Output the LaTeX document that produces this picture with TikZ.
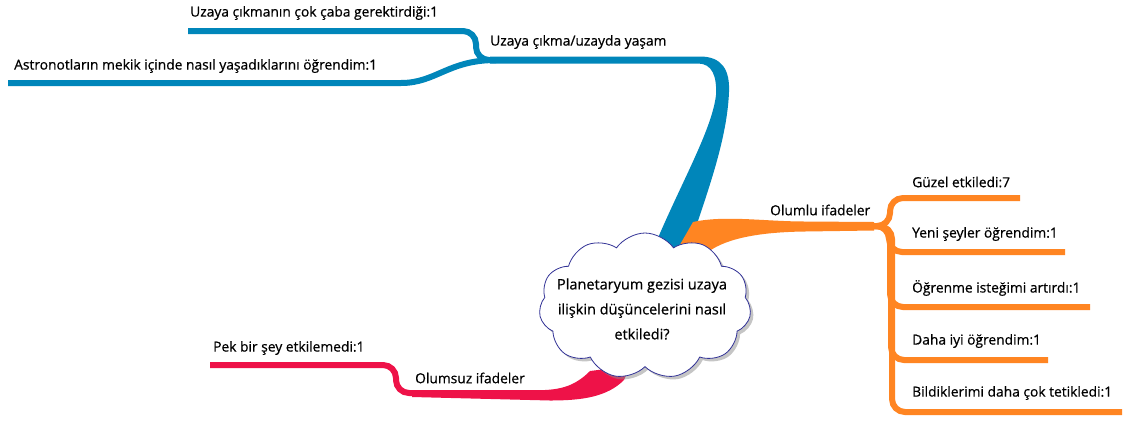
\documentclass[tikz,border=0pt]{standalone}
\usepackage{fontspec}
\setmainfont{Open Sans}
\newfontfamily\mapfont{Open Sans}[FakeBold=0.6]
\usetikzlibrary{shapes.symbols,shadows}
\definecolor{mapblue}{RGB}{0,134,186}
\definecolor{maporange}{RGB}{255,133,34}
\definecolor{mapred}{RGB}{238,18,72}
\definecolor{cloudline}{RGB}{50,50,150}
\tikzset{
  maptext/.style={anchor=west, inner sep=0pt, text=black, font=\mapfont\fontsize{13.8}{16}\selectfont},
  leaf/.style={line width=6pt, rounded corners=13pt},
}
\begin{document}
\begin{tikzpicture}[x=1pt,y=-1pt]
\useasboundingbox (0,0) rectangle (1129,421);
\fill[white] (0,0) rectangle (1129,421);

% ---- blue branch: space travel / life in space
\coordinate (bJ) at (496,60);
\coordinate (bU) at (188,31);
\coordinate (bL) at (8,83);
\coordinate (bLk) at (388,83);
\draw[leaf, mapblue] (bJ) -- ++(-20,0) |- (bU);
\draw[leaf, mapblue] (bL) -- (bLk) .. controls +(48,0) and +(-48,0) .. (bJ);
\fill[mapblue] (490,56.5) -- (700,56.5) .. controls (722,56.5) and (730,70) .. (729,92)
  .. controls (727,140) and (708,190) .. (690,245) -- (684,268) -- (646,268) -- (655,245)
  .. controls (680,185) and (712,130) .. (716,95) .. controls (717,76) and (712,63.5) .. (698,63.5)
  -- (490,63.5) -- cycle;

% ---- orange branch: positive statements
\coordinate (oJ) at (870,226);
\coordinate (oG) at (1020,198);
\coordinate (oY) at (1065,252);
\coordinate (oO) at (1090,307);
\coordinate (oD) at (1048,360);
\coordinate (oB) at (1122,412);
\fill[maporange] (670,262) -- (693,222) .. controls (725,215) and (765,221.5) .. (805,221.5)
  -- (874,222) -- (874,230.5) -- (805,231.5) .. controls (765,232) and (728,237) .. (708,252)
  -- (696,268) -- cycle;
\draw[leaf, maporange] (oJ) -- ++(20,0) |- (oG);
\draw[leaf, maporange] (oJ) -- ++(19,0) |- (oY);
\draw[leaf, maporange] (oJ) -- ++(20,0) |- (oO);
\draw[leaf, maporange] (oJ) -- ++(21,0) |- (oD);
\draw[leaf, maporange] (oJ) -- ++(22,0) |- (oB);

% ---- red branch: negative statements
\coordinate (rJ) at (418,393);
\coordinate (rP) at (210,365);
\draw[leaf, mapred] (rJ) -- ++(-22,0) |- (rP);
\fill[mapred] (412,390) -- (545,390) .. controls (566,389) and (578,383) .. (590,371)
  -- (630,366) -- (624,380) .. controls (607,397) and (582,400.5) .. (550,400.5)
  -- (412,397) -- cycle;

% ---- central question
\node[cloud, cloud puffs=11, cloud puff arc=110, cloud ignores aspect,
      minimum width=212pt, minimum height=146pt, draw=cloudline, line width=0.8pt,
      fill=white, drop shadow={shadow xshift=3pt, shadow yshift=-3pt, fill=black!45}]
      (cloud) at (645,306) {};
\node[align=center, inner sep=0pt, text=black, font=\mapfont\fontsize{14.5}{25}\selectfont]
      (question) at (642,309) {Planetaryum gezisi uzaya\\ilişkin düşüncelerini nasıl\\etkiledi?};

% ---- labels
\node[maptext] (tU) at (190,13) {Uzaya çıkmanın çok çaba gerektirdiği:1};
\node[maptext] (tB) at (490,42) {Uzaya çıkma/uzayda yaşam};
\node[maptext] (tL) at (14,66) {Astronotların mekik içinde nasıl yaşadıklarını öğrendim:1};
\node[maptext] (tO) at (770,210) {Olumlu ifadeler};
\node[maptext] (tO1) at (912,182) {Güzel etkiledi:7};
\node[maptext] (tO2) at (912,234) {Yeni şeyler öğrendim:1};
\node[maptext] (tO3) at (912,288) {Öğrenme isteğimi artırdı:1};
\node[maptext] (tO4) at (912,341) {Daha iyi öğrendim:1};
\node[maptext] (tO5) at (912,393) {Bildiklerimi daha çok tetikledi:1};
\node[maptext] (tN) at (415,378) {Olumsuz ifadeler};
\node[maptext] (tN1) at (213,348) {Pek bir şey etkilemedi:1};
\end{tikzpicture}
\end{document}
